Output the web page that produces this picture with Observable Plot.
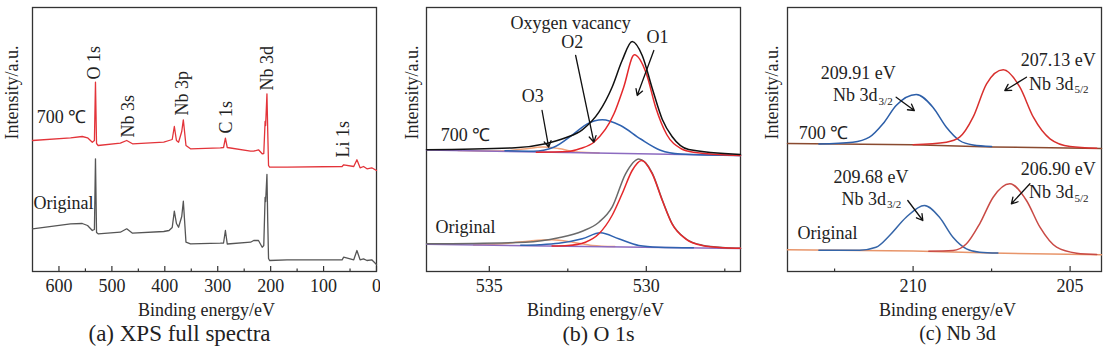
<!DOCTYPE html>
<html><head><meta charset="utf-8">
<script src="https://cdn.jsdelivr.net/npm/d3@7"></script>
<script src="https://cdn.jsdelivr.net/npm/@observablehq/plot@0.6"></script>
<style>
body{margin:0;background:#fff;}
#wrap{position:relative;width:1106px;height:354px;overflow:hidden;background:#fff;}
.panel{position:absolute;top:0;}
.panel svg, .panel svg text{font-family:"Liberation Serif","Times New Roman",serif !important;}
</style></head><body><div id="wrap"></div>
<script>
// ---------- (a) XPS full spectra: [binding energy eV, intensity a.u.] ----------
const survey700 = [[650,131],[578,133.7],[556,135],[546,133.7],[537,129.3],[533,131],[531,189.3],[529,128],[526,126],[484,128.3],[472,131],[461,127.7],[402,129.3],[392,131],[386,132],[382,145],[378,131],[374,129.3],[368,140],[365,151.7],[360,126],[351.5,122.7],[295,123.7],[289,124],[285.5,133.3],[282,124],[238,120.3],[232,120.3],[223,121.7],[216,117.7],[213,118],[210.5,150],[209.5,146],[207,177.7],[205.5,140],[204,106],[202,104.3],[169,104.3],[65,105],[62,106.7],[43,105],[37,111.7],[31,103.7],[24.5,105],[18,102.7],[9,103.7],[0,101]];
const surveyOriginal = [[650,42.7],[578,47.7],[556,48],[546,46],[537,41],[533,42],[531,112.7],[529,39],[526,37.7],[484,39.3],[472,42.7],[461,38.3],[402,40],[392,41],[386,44],[382,60.3],[378,48],[374,44.3],[368,55],[365,70.3],[360,29.3],[351.5,27.7],[295,28.3],[289,28.5],[285.5,41],[282,27.5],[238,29.3],[232,31],[223,31],[216,24.3],[213,26],[210.5,74],[209.5,70],[207,97],[205.5,50],[204,13],[202,11],[169,11.7],[65,11.7],[62,14.3],[43,11.7],[37,21],[31,11.7],[24.5,12.7],[18,11],[9,11.7],[0,7]];
const surveyPeakLabels = [{t:"O 1s",x:532.6,y:192},{t:"Nb 3s",x:470,y:134},{t:"Nb 3p",x:366.6,y:156},{t:"C 1s",x:283.6,y:138},{t:"Nb 3d",x:206.2,y:181},{t:"Li 1s",x:62.8,y:114}];
const surveySampleLabels = [{t:"700 ℃",x:642,y:154},{t:"Original",x:648,y:68}];
const surveyMajorTicks = [600,500,400,300,200,100,0];
const surveyMinorTicks = [550,450,350,250,150,50];

// ---------- (b) O 1s ----------
const o1sBase700 = [[537,121.5],[527,116]];
const o1sEnv700 = [[537,121.7],[534.17,123.7],[533.21,127.7],[532.57,133.7],[532.04,141.7],[531.51,159.3],[531.09,184.3],[530.77,211],[530.45,230],[530.13,216],[529.81,183],[529.49,152],[529.18,135],[528.65,122],[527,117]];
const o1sO1_700 = [[533.5,119.3],[532.5,120],[532.1,123],[531.67,129.3],[531.03,157.7],[530.72,184.3],[530.38,216.7],[530.0,198],[529.7,164],[529.35,137],[528.9,123],[528.5,119.3],[527,116]];
const o1sO2_700 = [[534.5,120.8],[533.59,120.3],[532.95,124.3],[532.31,137.7],[531.88,147.7],[531.4,151.7],[530.82,146],[530.18,132.5],[529.55,121.3],[528.91,117.5],[527,116]];
const o1sO3_700 = [[536,120.95],[534.6,120.4],[533.9,122.5],[533.3,124.5],[532.8,123],[532.2,119.4],[531.5,118.5]];
const o1sBase0 = [[537,27.2],[527,23]];
const o1sEnv0 = [[537,27.7],[533.85,29.3],[532.79,33.7],[532.04,40.3],[531.51,49.3],[531.09,64.3],[530.66,97.7],[530.24,112.5],[529.81,98.5],[529.49,71.5],[529.18,48],[528.75,33],[528.22,26.3],[527.48,23.8],[527,23.2]];
const o1sO1_0 = [[533,25.5],[532.5,26],[531.94,29.3],[531.51,37.7],[531.09,56],[530.77,77.7],[530.45,101],[530.15,111],[529.81,97.7],[529.49,71],[529.18,47.7],[528.75,32.7],[528.22,26],[527.5,23.7],[527,23.2]];
const o1sO2_0 = [[534,26.3],[533.4,26.8],[532.79,28.2],[532.04,32.7],[531.46,38.7],[530.88,32.7],[530.24,26],[529.61,24.3],[528.5,23.7]];
const o1sO3_0 = [[535.5,26.6],[534.39,28.3],[533.7,30.5],[533.0,31.7],[532.3,29],[531.72,26],[531,24.9]];
const o1sLabels = [{t:"Oxygen vacancy",x:532.41,y:248},{t:"O2",x:532.36,y:229},{t:"O1",x:529.64,y:234},{t:"O3",x:533.62,y:175}];
const o1sSampleLabels = [{t:"700 ℃",x:536.55,y:136},{t:"Original",x:536.71,y:44}];
const o1sArrows = [{x1:533.32,y1:161,x2:533.11,y2:124.3},{x1:532.25,y1:216,x2:531.67,y2:129.3},{x1:529.76,y1:221,x2:530.29,y2:176}];
const o1sMajorTicks = [535,530];
const o1sMinorTicks = [532.5,527.5];

// ---------- (c) Nb 3d ----------
const nbBase700 = [[214,128],[210,126.7],[207.5,124.5],[204,123]];
const nb32_700 = [[213,127.6],[211.92,129.3],[211.39,134.3],[210.96,147.7],[210.54,166],[209.9,177],[209.37,164.3],[208.94,144.3],[208.52,131],[208.09,126.5],[207.5,125]];
const nb52_700 = [[210,126.7],[208.94,129.3],[208.52,134.3],[208.09,154.3],[207.66,187.7],[207.13,201.7],[206.6,184.3],[206.17,154.3],[205.64,132.7],[205.0,125],[204.15,123.3]];
const nbBase0 = [[214,21.7],[210,20.5],[207.5,18.5],[204,16.7]];
const nb32_0 = [[213,21.3],[211.71,21.3],[211.18,24.3],[210.75,36],[210.22,54.3],[209.64,66],[209.16,54.3],[208.73,34.3],[208.3,22.7],[207.88,19.3],[207.3,18.5]];
const nb52_0 = [[209.5,20.3],[208.73,21],[208.3,27.7],[207.88,47.7],[207.45,74.3],[206.92,87.7],[206.39,71],[205.96,44.3],[205.43,24.3],[204.79,18.3],[204.15,17]];
const nbEnergyLabels = [{t:"209.91 eV",x:211.75,y:198},{t:"207.13 eV",x:205.38,y:211},{t:"209.68 eV",x:211.34,y:94.3},{t:"206.90 eV",x:205.38,y:102.7}];
const nbOrbitalLabels = [{t:"Nb 3d",s:"3/2",x:211.13,y:176},{t:"Nb 3d",s:"5/2",x:204.89,y:187.7},{t:"Nb 3d",s:"3/2",x:210.86,y:72.7},{t:"Nb 3d",s:"5/2",x:204.89,y:79.3}];
const nbSampleLabels = [{t:"700 ℃",x:213.64,y:138},{t:"Original",x:213.68,y:38}];
const nbArrows = [{x1:210.54,y1:174.3,x2:209.96,y2:161},{x1:206.39,y1:194.3,x2:207.08,y2:181},{x1:210.17,y1:71,x2:209.69,y2:51},{x1:206.28,y1:87.7,x2:206.87,y2:67.7}];
const nbMajorTicks = [210,205];
const nbMinorTicks = [212.5,207.5];

const FONT = '"Liberation Serif","Times New Roman",serif';
const INK = "#222";

function makePanel(o) {
  const marks = [
    Plot.frame({stroke: "#333", strokeWidth: 1.3}),
    Plot.ruleX(o.majors, {x: d => d, y1: 0, y2: 5, stroke: "#333", strokeWidth: 1.2}),
    Plot.ruleX(o.minors, {x: d => d, y1: 0, y2: 2.6, stroke: "#333", strokeWidth: 1.2}),
    Plot.axisX({ticks: o.majors, tickSize: 0, tickPadding: 8, tickFormat: d => String(d), label: null, fill: INK, fontFamily: FONT}),
    ...o.series.map(s => Plot.line(s.data, {x: d => d[0], y: d => d[1], stroke: s.color, strokeWidth: s.w || 1.5, curve: s.curve || "monotone-x"})),
    ...o.extra,
    Plot.text(["Binding energy/eV"], {frameAnchor: "bottom", dy: 39, dx: o.xlabelDx, lineAnchor: "middle", fill: INK, fontFamily: FONT}),
    Plot.text(["Intensity/a.u."], {frameAnchor: "left", rotate: -90, dx: o.ylabelDx, lineAnchor: "middle", fill: INK, fontFamily: FONT}),
    Plot.text([o.caption], {frameAnchor: "bottom", dy: 62, dx: o.captionDx, lineAnchor: "middle", fontSize: o.captionSize, fill: INK, fontFamily: FONT})
  ];
  const svg = Plot.plot({
    width: o.width, height: 354,
    marginLeft: o.mL, marginRight: o.mR, marginTop: 7, marginBottom: 83,
    x: {domain: o.domain},
    y: {domain: [0, 264], axis: null},
    style: {fontFamily: FONT, fontSize: "18px", background: "transparent", color: INK},
    marks
  });
  const div = document.createElement("div");
  div.className = "panel";
  div.style.left = o.left + "px";
  div.appendChild(svg);
  document.getElementById("wrap").appendChild(div);
}

// (a)
makePanel({
  left: 0, width: 380, mL: 32, mR: 4, domain: [650, 0],
  majors: surveyMajorTicks, minors: surveyMinorTicks,
  series: [
    {data: survey700, color: "#e3343a", w: 1.3, curve: "linear"},
    {data: surveyOriginal, color: "#555555", w: 1.3, curve: "linear"}
  ],
  extra: [
    Plot.text(surveyPeakLabels, {x: "x", y: "y", text: "t", rotate: -90, textAnchor: "start", lineAnchor: "middle", fill: INK, fontFamily: FONT}),
    Plot.text(surveySampleLabels, {x: "x", y: "y", text: "t", textAnchor: "start", lineAnchor: "middle", fill: INK, fontFamily: FONT})
  ],
  xlabelDx: 2, ylabelDx: -20, caption: "(a) XPS full spectra", captionDx: -25, captionSize: 23
});

// (b)
makePanel({
  left: 380, width: 366, mL: 46, mR: 6, domain: [537, 527],
  majors: o1sMajorTicks, minors: o1sMinorTicks,
  series: [
    {data: o1sO3_700, color: "#f2a47a"},
    {data: o1sBase700, color: "#8c6bc0", curve: "linear"},
    {data: o1sO2_700, color: "#2f62b0"},
    {data: o1sO1_700, color: "#e4282b"},
    {data: o1sEnv700, color: "#111111"},
    {data: o1sO3_0, color: "#f2a47a"},
    {data: o1sBase0, color: "#8c6bc0", curve: "linear"},
    {data: o1sO2_0, color: "#2f62b0"},
    {data: o1sEnv0, color: "#6a6a6a"},
    {data: o1sO1_0, color: "#e4282b"}
  ],
  extra: [
    Plot.arrow(o1sArrows, {x1: "x1", y1: "y1", x2: "x2", y2: "y2", stroke: "#111", strokeWidth: 1.3, headLength: 8}),
    Plot.text(o1sLabels, {x: "x", y: "y", text: "t", textAnchor: "middle", lineAnchor: "middle", fill: INK, fontFamily: FONT}),
    Plot.text(o1sSampleLabels, {x: "x", y: "y", text: "t", textAnchor: "start", lineAnchor: "middle", fill: INK, fontFamily: FONT})
  ],
  xlabelDx: 12, ylabelDx: -14, caption: "(b) O 1s", captionDx: 15, captionSize: 22
});

// (c)
makePanel({
  left: 746, width: 360, mL: 41, mR: 5, domain: [214, 204],
  majors: nbMajorTicks, minors: nbMinorTicks,
  series: [
    {data: nbBase700, color: "#8a4a30", curve: "linear"},
    {data: nb32_700, color: "#2c5ea8"},
    {data: nb52_700, color: "#d8302e"},
    {data: nbBase0, color: "#e8956a", curve: "linear"},
    {data: nb32_0, color: "#3565a8"},
    {data: nb52_0, color: "#c94a45"}
  ],
  extra: [
    Plot.arrow(nbArrows, {x1: "x1", y1: "y1", x2: "x2", y2: "y2", stroke: "#111", strokeWidth: 1.3, headLength: 8}),
    Plot.text(nbEnergyLabels, {x: "x", y: "y", text: "t", textAnchor: "middle", lineAnchor: "middle", fill: INK, fontFamily: FONT}),
    Plot.text(nbOrbitalLabels, {x: "x", y: "y", text: "t", textAnchor: "end", lineAnchor: "middle", fill: INK, fontFamily: FONT}),
    Plot.text(nbOrbitalLabels, {x: "x", y: "y", text: "s", textAnchor: "start", lineAnchor: "middle", dx: 1, dy: 6, fontSize: 11, fill: INK, fontFamily: FONT}),
    Plot.text(nbSampleLabels, {x: "x", y: "y", text: "t", textAnchor: "start", lineAnchor: "middle", fill: INK, fontFamily: FONT})
  ],
  xlabelDx: 3, ylabelDx: -15, caption: "(c) Nb 3d", captionDx: 13, captionSize: 20
});
</script></body></html>
